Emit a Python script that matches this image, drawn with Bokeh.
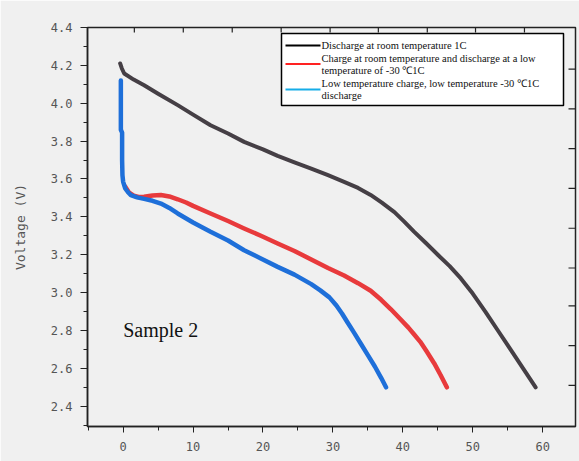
from bokeh.plotting import figure
from bokeh.models import Range1d, SingleIntervalTicker, PrintfTickFormatter
from bokeh.core.properties import value
from bokeh.embed import file_html
from bokeh.resources import INLINE

# ---- data (capacity-like x, voltage y) ----
black_x = [-0.43, -0.2, 0.15, 1.5, 3.0, 5.0, 7.8, 10.0, 12.5, 15.0, 17.3, 20.0, 22.1, 24.5, 26.9,
           29.3, 31.6, 33.6, 35.4, 37.0, 38.8, 40.2, 41.6, 43.3, 45.0, 46.7, 48.3, 50.0, 51.8,
           53.6, 55.4, 57.2, 59.0]
black_y = [4.21, 4.185, 4.157, 4.125, 4.095, 4.05, 3.99, 3.94, 3.884, 3.84, 3.796, 3.756, 3.722, 3.688, 3.655,
           3.62, 3.585, 3.553, 3.516, 3.475, 3.425, 3.375, 3.322, 3.262, 3.20, 3.14, 3.075, 2.995, 2.90,
           2.80, 2.70, 2.60, 2.50]

red_x = [0.3, 0.8, 1.5, 2.2, 3.0, 4.2, 5.4, 6.6, 7.8, 9.0, 10.0, 12.5, 15.0, 17.3, 19.7, 22.1, 24.5, 26.9,
         29.3, 31.6, 33.6, 35.4, 36.9, 38.3, 39.6, 40.8, 41.6, 42.5, 43.4, 44.5, 45.4, 46.3]
red_y = [3.56, 3.53, 3.512, 3.505, 3.506, 3.513, 3.515, 3.508, 3.493, 3.476, 3.458, 3.418, 3.378, 3.339, 3.30, 3.259,
         3.22, 3.175, 3.13, 3.09, 3.05, 3.01, 2.962, 2.912, 2.862, 2.815, 2.78, 2.74, 2.69, 2.626, 2.565, 2.50]

blue_x = [-0.33, -0.33, -0.33, -0.15, -0.15, -0.1, 0.0, 0.3, 0.7, 1.1, 2.0, 3.0, 4.2, 5.4, 6.6, 7.8,
          10.0, 12.5, 15.0, 17.3, 19.7, 22.1, 24.5, 26.9, 28.2, 29.5, 30.5, 31.3, 32.1, 33.0, 34.0,
          35.0, 36.0, 36.9, 37.6]
blue_y = [4.12, 4.0, 3.86, 3.845, 3.70, 3.62, 3.585, 3.55, 3.53, 3.515, 3.503, 3.495, 3.485, 3.47, 3.447, 3.418,
          3.37, 3.321, 3.275, 3.224, 3.18, 3.136, 3.095, 3.045, 3.012, 2.975, 2.932, 2.89, 2.842, 2.79, 2.73,
          2.67, 2.61, 2.55, 2.50]

legend_lines = [
    "Discharge at room temperature 1C",
    "Charge at room temperature and discharge at a low",
    "temperature of -30 \u21031C",
    "Low temperature charge, low temperature -30 \u21031C",
    "discharge",
]
y_label = "Voltage (V)"
sample_label = ["Sample 2"]
sample_x = [0.0]
sample_y = [2.80]

top_ticks = [1.6, 8.6, 15.6, 22.6, 29.6, 36.5, 43.5, 50.4, 57.4]
right_ticks = [2.51, 2.72, 2.93, 3.13, 3.34, 3.55, 3.76, 3.97, 4.18]

# ---- layout ----
X_START, X_END = -5.1, 64.7
Y_START, Y_END = 2.293, 4.4
W, H = 579, 461
BL, BR, BT, BB = 87, 4, 27, 35
fw, fh = W - BL - BR, H - BT - BB

def dx(px):
    return X_START + (px - BL) / fw * (X_END - X_START)

def dy(py):
    return Y_END - (py - BT) / fh * (Y_END - Y_START)

BG = "#f0f0f0"
AX = "#222222"
p = figure(width=W, height=H, x_range=Range1d(X_START, X_END), y_range=Range1d(Y_START, Y_END),
           output_backend="svg", toolbar_location=None,
           min_border_left=BL, min_border_right=BR, min_border_top=BT, min_border_bottom=BB)
p.background_fill_color = BG
p.border_fill_color = BG
p.xgrid.visible = False
p.ygrid.visible = False
p.outline_line_color = AX
p.outline_line_width = 1.5

tick_font = "DejaVu Sans Mono"
xa = p.xaxis[0]
xa.ticker = SingleIntervalTicker(interval=10, num_minor_ticks=2)
xa.axis_line_width = 1.5
xa.axis_line_color = AX
xa.major_tick_line_color = AX
xa.minor_tick_line_color = AX
xa.major_tick_out = 6
xa.major_tick_in = 0
xa.minor_tick_out = 4
xa.minor_tick_in = 0
xa.major_label_text_font = tick_font
xa.major_label_text_font_size = "12px"
xa.major_label_text_color = "#555555"
xa.major_label_standoff = 9

ya = p.yaxis[0]
ya.ticker = SingleIntervalTicker(interval=0.2, num_minor_ticks=2)
ya.formatter = PrintfTickFormatter(format="%.1f")
ya.axis_line_width = 1.5
ya.axis_line_color = AX
ya.major_tick_line_color = AX
ya.minor_tick_line_color = AX
ya.major_tick_out = 7
ya.major_tick_in = 0
ya.minor_tick_out = 4
ya.minor_tick_in = 0
ya.major_label_text_font = tick_font
ya.major_label_text_font_size = "12px"
ya.major_label_text_color = "#555555"
ya.major_label_standoff = 8
ya.axis_label = y_label
ya.axis_label_text_font = tick_font
ya.axis_label_text_font_size = "13px"
ya.axis_label_text_font_style = "normal"
ya.axis_label_text_color = "#555555"
ya.axis_label_standoff = 20

# inward ticks on the top and right frame edges
p.segment(x0=top_ticks, x1=top_ticks, y0=[Y_END] * len(top_ticks), y1=[dy(BT + 5)] * len(top_ticks),
          line_color=AX, line_width=1.2)
p.segment(x0=[X_END] * len(right_ticks), x1=[dx(BL + fw - 7)] * len(right_ticks),
          y0=right_ticks, y1=right_ticks, line_color=AX, line_width=1.2)

# ---- curves ----
p.line(black_x, black_y, line_color="#453f45", line_width=4, line_join="round", line_cap="round")
p.line(red_x, red_y, line_color="#e83a3c", line_width=4.5, line_join="round", line_cap="round")
p.line(blue_x, blue_y, line_color="#1e6fd9", line_width=4.5, line_join="round", line_cap="round")

# ---- sample label ----
p.text(x=sample_x, y=sample_y, text=sample_label, text_font=value("Liberation Serif"),
       text_font_size="20px", text_color="#111111", text_baseline="alphabetic", text_align="left")

# ---- legend (drawn manually) ----
p.quad(left=[dx(281)], right=[dx(563)], top=[dy(33)], bottom=[dy(105)],
       fill_color="white", line_color="black", line_width=1.5)
seg_y = [dy(45), dy(63.5), dy(89)]
p.segment(x0=[dx(285)] * 3, x1=[dx(320)] * 3, y0=seg_y, y1=seg_y,
          line_color=["#000000", "#ff2222", "#16ade8"], line_width=2)
p.text(x=[dx(321)] * 5, y=[dy(45), dy(57.5), dy(70), dy(82.5), dy(94.5)], text=legend_lines,
       text_font=value("Liberation Serif"), text_font_size="10.5px", text_color="#111111",
       text_baseline="middle", text_align="left")

open("out.html", "w").write(file_html(p, INLINE))
